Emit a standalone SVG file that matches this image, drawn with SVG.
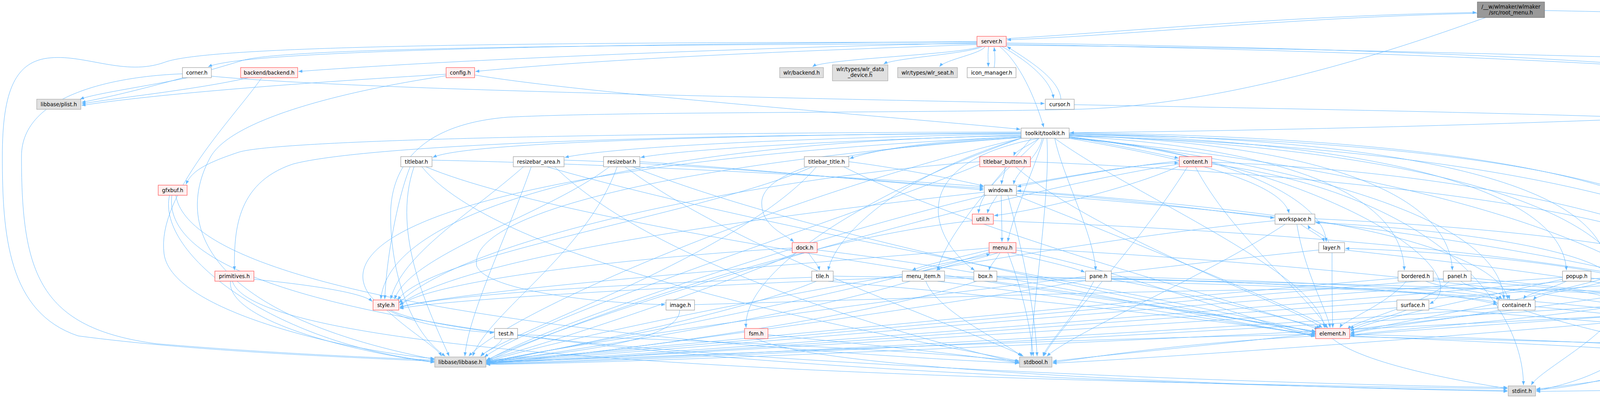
<svg xmlns="http://www.w3.org/2000/svg" width="5355" height="1019" viewBox="0 0 5355 1019">
<style>
#edges path{fill:none;stroke:#63b8ff;stroke-width:1;marker-end:url(#ah)}
.n rect{stroke-width:1}
.n text{font-family:"DejaVu Sans","Liberation Sans",Arial,sans-serif;font-size:13.33px;fill:#000;text-anchor:middle}
.w rect{fill:#fff;stroke:#888}
.r rect{fill:#fff0f0;stroke:#f33}
.x rect{fill:#e0e0e0;stroke:#999}
.m rect{fill:#999;stroke:#666}
</style>
<defs>
<marker id="ah" markerUnits="userSpaceOnUse" markerWidth="11" markerHeight="8" refX="10" refY="4" orient="auto"><path d="M0,0 L10,4 L0,8 z" fill="#63b8ff"/></marker>
</defs>
<rect width="5355" height="1019" fill="#fff"/>
<g id="edges">
<path d="M3782,34 C3300,45 2900,90 2578,102"/>
<path d="M2576,99 C2900,80 3300,40 3780,32"/>
<path d="M3954,27 C4700,40 5230,80 5260,200 C5290,300 4900,270 4500,290 C3900,320 3200,335 2739,340"/>
<path d="M3803,45 C3700,80 3200,270 2750,280 C2300,290 1600,285 1300,300 C1050,320 1000,450 1000,550 C1000,700 1050,850 1140,912"/>
<path d="M2510,119 C2460,140 2110,150 2080,171"/>
<path d="M2515,119 C2480,138 2290,148 2262,164"/>
<path d="M2522,119 C2512,138 2420,152 2405,171"/>
<path d="M2531,119 C2528,140 2530,152 2530,171"/>
<path d="M2545,173 C2548,155 2547,140 2545,121"/>
<path d="M2565,119 C2620,150 2690,200 2697,252"/>
<path d="M2716,254 C2712,200 2625,150 2578,119"/>
<path d="M2559,119 C2610,160 2650,250 2672,326"/>
<path d="M2501,106 C2000,112 650,118 533,171"/>
<path d="M2501,110 C2000,120 1200,150 764,183"/>
<path d="M2501,114 C2200,125 1600,145 1217,183"/>
<path d="M2501,108 C1200,108 520,120 420,160 C320,195 220,140 130,148 C40,155 6,230 6,400 C6,600 20,800 200,860 C500,900 900,915 1112,925"/>
<path d="M2501,112 C1200,115 700,130 620,155 C520,185 350,235 209,262"/>
<path d="M2576,110 C3600,125 4500,160 4700,240 C4840,300 4842,500 4842,700 C4842,850 4830,890 4820,912"/>
<path d="M2576,113 C4000,140 5000,200 5200,300 C5260,400 5250,600 5180,912"/>
<path d="M2576,116 C3500,122 4500,160 5100,170 C5300,175 5346,230 5346,400 C5346,800 5300,920 5100,960 C4700,990 4200,1000 3933,1002"/>
<path d="M480,199 C380,220 240,240 205,254"/>
<path d="M541,195 C900,230 2000,250 2674,265"/>
<path d="M467,189 C300,195 55,240 55,400 C55,700 100,840 400,880 C700,905 950,915 1112,922"/>
<path d="M636,199 C500,230 300,250 209,266"/>
<path d="M670,199 C600,300 400,500 420,650 C440,800 900,900 1112,918"/>
<path d="M1142,190 C800,210 400,240 209,270"/>
<path d="M1142,194 C900,230 600,300 540,400 C450,560 500,800 1112,920"/>
<path d="M1215,192 C1500,240 2300,300 2612,331"/>
<path d="M2750,268 C3500,282 4500,300 4700,330 C4740,340 4740,400 4740,912"/>
<path d="M2614,340 C2000,345 1200,360 1108,403"/>
<path d="M2614,343 C2200,350 1600,370 1446,403"/>
<path d="M2614,346 C2300,355 1800,375 1640,403"/>
<path d="M2614,350 C2400,360 2250,380 2175,406"/>
<path d="M2660,354 C2640,370 2600,385 2595,399"/>
<path d="M2737,350 C2850,370 2950,390 3017,405"/>
<path d="M2668,354 C2660,400 2600,440 2595,472"/>
<path d="M2660,354 C2600,420 2510,480 2505,546"/>
<path d="M2737,354 C3000,400 3280,460 3300,546"/>
<path d="M2614,352 C2100,380 1950,450 1950,520 C1950,580 2010,600 2032,619"/>
<path d="M2672,354 C2640,450 2590,560 2580,619"/>
<path d="M2737,352 C3100,380 3390,500 3395,619"/>
<path d="M2614,338 C1500,340 700,360 610,390 C520,420 490,440 476,472"/>
<path d="M2614,342 C1500,345 900,380 750,420 C600,470 600,600 600,692"/>
<path d="M2614,348 C1800,355 1000,500 975,766"/>
<path d="M2614,352 C1700,420 1200,550 1220,680 C1240,740 1500,775 1703,780"/>
<path d="M2614,350 C1500,400 900,550 930,720 C950,820 1150,845 1264,852"/>
<path d="M2614,354 C2000,500 1300,800 1200,912"/>
<path d="M2614,354 C2300,450 2140,600 2120,692"/>
<path d="M2640,354 C2560,450 2420,600 2400,692"/>
<path d="M2660,354 C2300,420 2390,620 2495,692"/>
<path d="M2700,354 C2720,450 2800,600 2805,692"/>
<path d="M2737,348 C3300,380 3590,500 3595,692"/>
<path d="M2737,346 C3400,370 3710,500 3718,692"/>
<path d="M2737,344 C3500,360 4000,480 4010,692"/>
<path d="M2737,342 C3600,355 4110,470 4115,692"/>
<path d="M2737,340 C3700,350 4380,460 4390,692"/>
<path d="M2737,352 C3400,420 3800,700 3660,778"/>
<path d="M2737,350 C3300,420 3840,550 3850,766"/>
<path d="M2737,346 C3700,380 4170,550 4180,766"/>
<path d="M2737,344 C3900,360 4500,500 4505,766"/>
<path d="M2614,354 C2200,500 1900,700 1910,839"/>
<path d="M2700,354 C2900,500 3380,700 3390,839"/>
<path d="M2680,354 C2690,500 2640,800 2640,912"/>
<path d="M2737,354 C3800,450 4380,700 4385,912"/>
<path d="M2737,348 C4000,380 4720,600 4720,912"/>
<path d="M1106,410 C1600,420 2300,460 2518,478"/>
<path d="M1050,427 C1020,500 990,650 985,766"/>
<path d="M1060,427 C1000,600 1100,800 1150,912"/>
<path d="M1090,427 C1500,600 3000,780 3368,850"/>
<path d="M1080,427 C1300,700 2400,880 2610,925"/>
<path d="M1444,410 C1800,420 2300,470 2518,482"/>
<path d="M1340,427 C1200,550 1030,650 1000,766"/>
<path d="M1360,427 C1300,600 1200,800 1190,912"/>
<path d="M1400,427 C2000,600 3100,780 3368,853"/>
<path d="M1420,427 C1700,700 2400,880 2612,930"/>
<path d="M1638,414 C1900,430 2300,470 2518,486"/>
<path d="M1560,427 C1400,550 1050,650 1010,766"/>
<path d="M1580,427 C1500,650 1250,800 1210,912"/>
<path d="M1620,427 C2100,620 3100,800 3368,856"/>
<path d="M1600,427 C1900,650 2500,850 2620,912"/>
<path d="M2173,414 C2300,430 2450,460 2518,476"/>
<path d="M2080,427 C1800,550 1100,650 1018,768"/>
<path d="M2090,427 C1900,650 1300,850 1230,912"/>
<path d="M2160,427 C2500,600 3200,780 3375,843"/>
<path d="M2573,427 C2573,445 2565,458 2564,472"/>
<path d="M2508,414 C2000,450 1200,600 1021,776"/>
<path d="M2510,420 C2200,550 1400,800 1240,914"/>
<path d="M2600,427 C2800,600 3300,780 3385,839"/>
<path d="M2638,414 C3500,450 4300,550 4380,692"/>
<path d="M3019,412 C2850,430 2700,460 2604,478"/>
<path d="M2604,474 C2750,450 2900,420 3017,417"/>
<path d="M3019,425 C2900,480 2650,540 2545,552"/>
<path d="M3060,427 C3150,600 3350,760 3398,839"/>
<path d="M3040,427 C2900,650 2700,850 2672,912"/>
<path d="M3019,420 C2500,500 1500,800 1245,922"/>
<path d="M3102,415 C4000,450 4600,650 4700,912"/>
<path d="M3102,420 C3700,500 3900,800 3900,986"/>
<path d="M2553,500 C2540,520 2530,535 2528,546"/>
<path d="M2602,490 C2900,510 3150,545 3262,558"/>
<path d="M3264,552 C3100,530 2800,500 2604,488"/>
<path d="M2563,500 C2564,540 2565,580 2565,619"/>
<path d="M2520,492 C2000,550 1200,650 1023,780"/>
<path d="M2525,500 C2100,600 1400,830 1245,924"/>
<path d="M2600,500 C2900,620 3300,780 3400,839"/>
<path d="M2580,500 C2620,650 2650,800 2655,912"/>
<path d="M2602,495 C3500,560 4500,700 4705,912"/>
<path d="M2543,565 C3500,600 4600,700 4725,912"/>
<path d="M2489,565 C2000,620 1400,850 1245,926"/>
<path d="M3330,574 C3350,590 3385,605 3390,619"/>
<path d="M3402,621 C3395,600 3355,590 3348,576"/>
<path d="M3320,574 C3340,700 3400,800 3405,839"/>
<path d="M3366,565 C3700,620 3850,700 3860,766"/>
<path d="M3264,565 C2700,620 1600,820 1245,926"/>
<path d="M3290,574 C3100,700 2750,850 2680,912"/>
<path d="M3366,560 C4200,600 4700,700 4745,912"/>
<path d="M4110,694 C4000,620 3600,580 3368,570"/>
<path d="M2070,647 C2080,665 2095,678 2098,692"/>
<path d="M2028,635 C1600,660 1100,720 1023,782"/>
<path d="M2040,647 C1800,750 1400,880 1245,922"/>
<path d="M2092,640 C2600,700 3100,820 3366,858"/>
<path d="M2555,647 C2500,665 2420,680 2397,692"/>
<path d="M2345,694 C2400,672 2505,662 2535,649"/>
<path d="M2560,647 C2550,665 2535,678 2532,692"/>
<path d="M2532,635 C2000,680 1200,740 1023,786"/>
<path d="M2535,645 C2200,750 1500,880 1245,927"/>
<path d="M2601,640 C2900,700 3200,820 3366,862"/>
<path d="M2601,635 C3500,680 4500,800 4710,912"/>
<path d="M2580,647 C2620,750 2640,850 2645,912"/>
<path d="M2587,647 C2680,670 2750,685 2777,697"/>
<path d="M2532,640 C2450,660 2360,680 2335,692"/>
<path d="M3410,647 C3410,720 3410,780 3412,839"/>
<path d="M3442,640 C4000,700 4700,800 4760,912"/>
<path d="M3376,640 C2800,700 1600,850 1245,928"/>
<path d="M4105,700 C3900,660 3600,640 3444,636"/>
<path d="M434,500 C400,650 700,880 1112,926"/>
<path d="M450,500 C500,800 2000,900 2608,930"/>
<path d="M440,500 C400,800 1500,960 3859,1000"/>
<path d="M650,715 C800,730 930,750 953,772"/>
<path d="M590,720 C580,820 900,900 1112,928"/>
<path d="M595,720 C650,900 2000,970 3859,995"/>
<path d="M990,794 C1050,850 1120,890 1130,912"/>
<path d="M1000,794 C1200,900 3000,980 3859,992"/>
<path d="M1740,794 C1740,880 1400,910 1245,922"/>
<path d="M1778,780 C2500,760 4000,700 4479,776"/>
<path d="M1285,867 C1280,885 1240,900 1232,912"/>
<path d="M1325,857 C1800,870 2400,900 2608,925"/>
<path d="M2133,707 C3000,720 3700,740 3833,775"/>
<path d="M2078,710 C1500,730 1100,760 1023,788"/>
<path d="M2090,720 C1900,800 1400,900 1245,929"/>
<path d="M2120,720 C2600,760 3200,830 3366,858"/>
<path d="M2418,708 C3200,720 4200,740 4479,780"/>
<path d="M2310,710 C1800,730 1150,765 1023,790"/>
<path d="M2330,720 C2000,820 1400,905 1245,930"/>
<path d="M2370,720 C2400,800 2580,880 2615,912"/>
<path d="M2400,720 C2800,770 3200,830 3366,860"/>
<path d="M2552,707 C3200,720 3700,740 3833,780"/>
<path d="M2500,720 C2200,820 1500,910 1245,930"/>
<path d="M2540,720 C2900,770 3250,830 3368,848"/>
<path d="M2845,715 C3100,760 3300,820 3380,839"/>
<path d="M2800,720 C2760,800 2680,880 2670,912"/>
<path d="M2845,708 C3300,720 3750,740 3840,766"/>
<path d="M2780,718 C2300,800 1500,910 1245,931"/>
<path d="M2845,712 C3800,740 4600,820 4710,912"/>
<path d="M3650,720 C3700,740 3830,750 3845,766"/>
<path d="M3669,712 C3900,730 4100,745 4120,766"/>
<path d="M3579,712 C3000,760 1600,900 1245,924"/>
<path d="M3600,720 C3550,780 3440,820 3430,839"/>
<path d="M3740,720 C3760,740 3860,750 3865,766"/>
<path d="M3710,720 C3650,780 3470,820 3450,843"/>
<path d="M3695,715 C3000,770 1600,905 1245,925"/>
<path d="M3766,712 C4300,760 4700,850 4720,912"/>
<path d="M4010,720 C3970,740 3910,750 3900,766"/>
<path d="M4000,715 C3800,760 3500,820 3457,848"/>
<path d="M4000,710 C3000,780 1600,910 1245,927"/>
<path d="M4073,712 C4500,760 4700,850 4730,912"/>
<path d="M4110,720 C4050,740 3940,750 3925,768"/>
<path d="M4135,720 C4140,740 4150,750 4150,766"/>
<path d="M4099,715 C3900,770 3550,830 3457,852"/>
<path d="M4159,710 C4500,750 4730,850 4750,912"/>
<path d="M4099,712 C3100,800 1600,915 1245,928"/>
<path d="M4150,720 C4300,800 4200,950 3933,1000"/>
<path d="M4410,720 C4450,740 4500,752 4505,766"/>
<path d="M4359,712 C3200,800 1600,920 1245,929"/>
<path d="M4435,710 C4600,760 4720,850 4730,912"/>
<path d="M4370,720 C3800,820 2900,900 2695,925"/>
<path d="M3600,794 C3550,815 3470,830 3457,843"/>
<path d="M3658,790 C4200,830 4700,870 4740,912"/>
<path d="M3576,788 C3000,830 1700,910 1245,930"/>
<path d="M3840,794 C3700,820 3500,840 3457,855"/>
<path d="M3835,788 C3200,840 1700,920 1245,931"/>
<path d="M3930,785 C4400,830 4700,880 4760,912"/>
<path d="M3900,794 C4100,860 4350,900 4372,912"/>
<path d="M4107,788 C3900,820 3550,845 3457,858"/>
<path d="M4140,794 C4100,870 3940,950 3920,986"/>
<path d="M4107,785 C3300,840 1700,925 1245,932"/>
<path d="M4481,785 C4000,820 3550,848 3457,860"/>
<path d="M4510,794 C4480,850 4420,900 4418,912"/>
<path d="M4530,794 C4600,850 4700,890 4720,912"/>
<path d="M4481,790 C3400,850 1700,930 1245,933"/>
<path d="M4481,792 C3800,860 2900,920 2695,930"/>
<path d="M4490,794 C4400,900 4100,990 3933,998"/>
<path d="M1966,857 C2200,880 2500,910 2608,930"/>
<path d="M1936,867 C2100,950 3200,990 3859,1002"/>
<path d="M3368,856 C2600,870 1600,920 1245,926"/>
<path d="M3368,860 C3000,880 2800,915 2695,928"/>
<path d="M3455,856 C4000,870 4500,895 4681,920"/>
<path d="M3455,860 C3900,880 4300,895 4366,920"/>
<path d="M3411,867 C3500,940 3800,985 3859,995"/>
<path d="M3455,862 C4300,880 4900,900 5059,925"/>
<path d="M4368,935 C4200,960 4000,990 3933,996"/>
</g>
<g id="node-root_menu" class="n m"><rect x="3782" y="5" width="172" height="40"/><text x="3868" y="21.5">/__w/wlmaker/wlmaker</text><text x="3868" y="36.5">/src/root_menu.h</text></g>
<g id="node-server" class="n r"><rect x="2501" y="93" width="75" height="26"/><text x="2538.5" y="110.5">server.h</text></g>
<g id="node-corner" class="n w"><rect x="467" y="173" width="74" height="26"/><text x="504" y="190.5">corner.h</text></g>
<g id="node-backend" class="n r"><rect x="616" y="173" width="146" height="26"/><text x="689" y="190.5">backend/backend.h</text></g>
<g id="node-config" class="n r"><rect x="1142" y="173" width="73" height="26"/><text x="1178.5" y="190.5">config.h</text></g>
<g id="node-plist" class="n x"><rect x="94" y="254" width="113" height="26"/><text x="150.5" y="271.5">libbase/plist.h</text></g>
<g id="node-wlr_backend" class="n x"><rect x="1996" y="173" width="112" height="26"/><text x="2052" y="190.5">wlr/backend.h</text></g>
<g id="node-wlr_data_device" class="n x"><rect x="2131" y="166" width="142" height="41"/><text x="2202" y="182">wlr/types/wlr_data</text><text x="2202" y="197">_device.h</text></g>
<g id="node-wlr_seat" class="n x"><rect x="2298" y="173" width="153" height="26"/><text x="2374.5" y="190.5">wlr/types/wlr_seat.h</text></g>
<g id="node-icon_manager" class="n w"><rect x="2476" y="173" width="125" height="26"/><text x="2538.5" y="190.5">icon_manager.h</text></g>
<g id="node-cursor" class="n w"><rect x="2676" y="254" width="74" height="26"/><text x="2713" y="271.5">cursor.h</text></g>
<g id="node-toolkit" class="n w"><rect x="2614" y="328" width="123" height="26"/><text x="2675.5" y="345.5">toolkit/toolkit.h</text></g>
<g id="node-gfxbuf" class="n r"><rect x="405" y="474" width="74" height="26"/><text x="442" y="491.5">gfxbuf.h</text></g>
<g id="node-titlebar" class="n w"><rect x="1026" y="401" width="80" height="26"/><text x="1066" y="418.5">titlebar.h</text></g>
<g id="node-resizebar_area" class="n w"><rect x="1314" y="401" width="130" height="26"/><text x="1379" y="418.5">resizebar_area.h</text></g>
<g id="node-resizebar" class="n w"><rect x="1545" y="401" width="93" height="26"/><text x="1591.5" y="418.5">resizebar.h</text></g>
<g id="node-titlebar_title" class="n w"><rect x="2059" y="401" width="114" height="26"/><text x="2116" y="418.5">titlebar_title.h</text></g>
<g id="node-titlebar_button" class="n r"><rect x="2508" y="401" width="130" height="26"/><text x="2573" y="418.5">titlebar_button.h</text></g>
<g id="node-content" class="n r"><rect x="3019" y="401" width="83" height="26"/><text x="3060.5" y="418.5">content.h</text></g>
<g id="node-window" class="n w"><rect x="2520" y="474" width="82" height="26"/><text x="2561" y="491.5">window.h</text></g>
<g id="node-util" class="n r"><rect x="2489" y="548" width="54" height="26"/><text x="2516" y="565.5">util.h</text></g>
<g id="node-workspace" class="n w"><rect x="3264" y="548" width="102" height="26"/><text x="3315" y="565.5">workspace.h</text></g>
<g id="node-dock" class="n r"><rect x="2028" y="621" width="64" height="26"/><text x="2060" y="638.5">dock.h</text></g>
<g id="node-menu" class="n r"><rect x="2532" y="621" width="69" height="26"/><text x="2566.5" y="638.5">menu.h</text></g>
<g id="node-layer" class="n w"><rect x="3376" y="621" width="66" height="26"/><text x="3409" y="638.5">layer.h</text></g>
<g id="node-primitives" class="n r"><rect x="550" y="694" width="100" height="26"/><text x="600" y="711.5">primitives.h</text></g>
<g id="node-style" class="n r"><rect x="955" y="768" width="66" height="26"/><text x="988" y="785.5">style.h</text></g>
<g id="node-image" class="n w"><rect x="1705" y="768" width="73" height="26"/><text x="1741.5" y="785.5">image.h</text></g>
<g id="node-test" class="n w"><rect x="1266" y="841" width="59" height="26"/><text x="1295.5" y="858.5">test.h</text></g>
<g id="node-libbase" class="n x"><rect x="1113" y="914" width="131" height="26"/><text x="1178.5" y="931.5">libbase/libbase.h</text></g>
<g id="node-tile" class="n w"><rect x="2078" y="694" width="55" height="26"/><text x="2105.5" y="711.5">tile.h</text></g>
<g id="node-menu_item" class="n w"><rect x="2310" y="694" width="108" height="26"/><text x="2364" y="711.5">menu_item.h</text></g>
<g id="node-box" class="n w"><rect x="2493" y="694" width="59" height="26"/><text x="2522.5" y="711.5">box.h</text></g>
<g id="node-pane" class="n w"><rect x="2779" y="694" width="66" height="26"/><text x="2812" y="711.5">pane.h</text></g>
<g id="node-bordered" class="n w"><rect x="3579" y="694" width="90" height="26"/><text x="3624" y="711.5">bordered.h</text></g>
<g id="node-panel" class="n w"><rect x="3695" y="694" width="71" height="26"/><text x="3730.5" y="711.5">panel.h</text></g>
<g id="node-popup" class="n w"><rect x="4000" y="694" width="73" height="26"/><text x="4036.5" y="711.5">popup.h</text></g>
<g id="node-root" class="n w"><rect x="4099" y="694" width="60" height="26"/><text x="4129" y="711.5">root.h</text></g>
<g id="node-button" class="n w"><rect x="4359" y="694" width="76" height="26"/><text x="4397" y="711.5">button.h</text></g>
<g id="node-surface" class="n w"><rect x="3576" y="768" width="82" height="26"/><text x="3617" y="785.5">surface.h</text></g>
<g id="node-container" class="n w"><rect x="3835" y="768" width="95" height="26"/><text x="3882.5" y="785.5">container.h</text></g>
<g id="node-rectangle" class="n w"><rect x="4107" y="768" width="95" height="26"/><text x="4154.5" y="785.5">rectangle.h</text></g>
<g id="node-buffer" class="n w"><rect x="4481" y="768" width="70" height="26"/><text x="4516" y="785.5">buffer.h</text></g>
<g id="node-fsm" class="n r"><rect x="1906" y="841" width="60" height="26"/><text x="1936" y="858.5">fsm.h</text></g>
<g id="node-element" class="n r"><rect x="3368" y="841" width="87" height="26"/><text x="3411.5" y="858.5">element.h</text></g>
<g id="node-stdbool" class="n x"><rect x="2610" y="914" width="83" height="26"/><text x="2651.5" y="931.5">stdbool.h</text></g>
<g id="node-input" class="n w"><rect x="4368" y="914" width="67" height="26"/><text x="4401.5" y="931.5">input.h</text></g>
<g id="node-wayland" class="n x"><rect x="4683" y="914" width="167" height="26"/><text x="4766.5" y="931.5">wayland-server-core.h</text></g>
<g id="node-xkbcommon" class="n x"><rect x="5061" y="914" width="200" height="26"/><text x="5161" y="931.5">xkbcommon/xkbcommon.h</text></g>
<g id="node-stdint" class="n x"><rect x="3861" y="988" width="70" height="26"/><text x="3896" y="1005.5">stdint.h</text></g>
</svg>
